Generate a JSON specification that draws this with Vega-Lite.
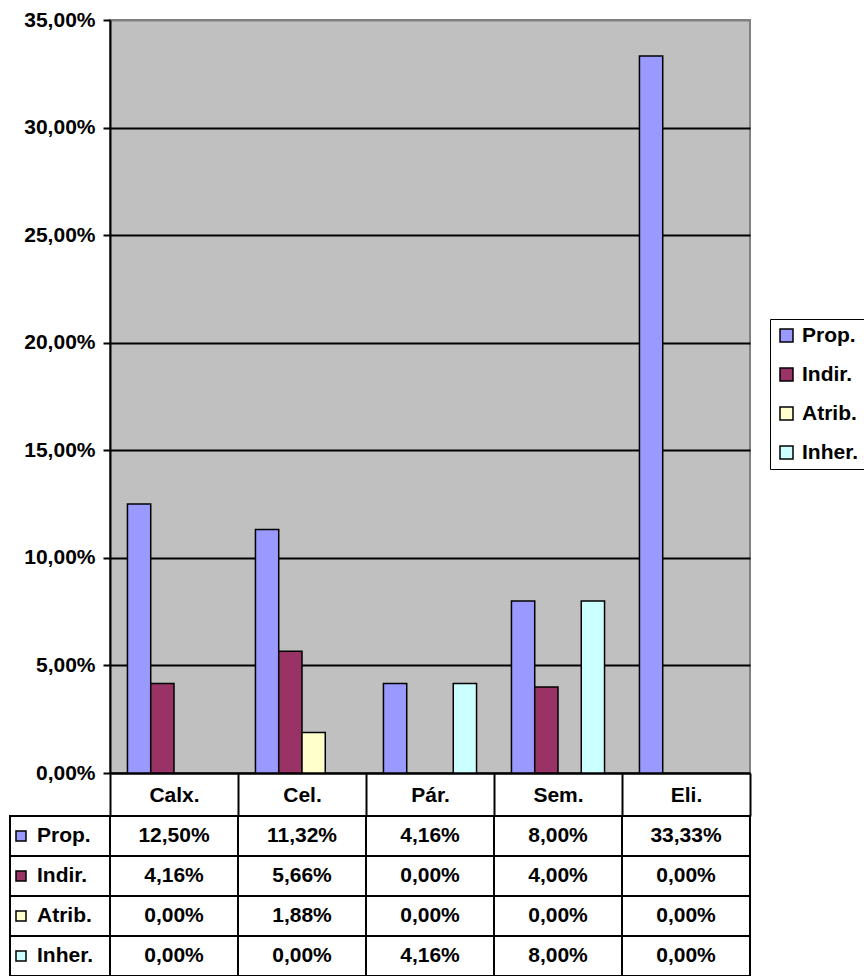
{
  "$schema": "https://vega.github.io/schema/vega-lite/v6.json",
  "padding": {"left": 9, "top": 8, "right": 0, "bottom": 0},
  "bounds": "flush",
  "columns": 2,
  "spacing": {"row": 43, "column": 0},
  "config": {
    "locale": {"number": {"decimal": ",", "thousands": ".", "grouping": [3], "currency": ["", " €"]}},
    "font": "Liberation Sans",
    "text": {"font": "Liberation Sans", "fontWeight": "bold", "fontSize": 21, "color": "black"},
    "axis": {"labelFont": "Liberation Sans", "labelFontWeight": "bold", "labelFontSize": 21, "labelColor": "black", "domainColor": "black", "domainWidth": 2, "tickColor": "black", "tickWidth": 2, "gridColor": "black", "gridWidth": 2, "title": null},
    "view": {"stroke": null}
  },
  "datasets": {
    "table": [
      {"category": "Calx.", "series": "Prop.", "value": 0.125},
      {"category": "Calx.", "series": "Indir.", "value": 0.0416},
      {"category": "Calx.", "series": "Atrib.", "value": 0},
      {"category": "Calx.", "series": "Inher.", "value": 0},
      {"category": "Cel.", "series": "Prop.", "value": 0.1132},
      {"category": "Cel.", "series": "Indir.", "value": 0.0566},
      {"category": "Cel.", "series": "Atrib.", "value": 0.0188},
      {"category": "Cel.", "series": "Inher.", "value": 0},
      {"category": "Pár.", "series": "Prop.", "value": 0.0416},
      {"category": "Pár.", "series": "Indir.", "value": 0},
      {"category": "Pár.", "series": "Atrib.", "value": 0},
      {"category": "Pár.", "series": "Inher.", "value": 0.0416},
      {"category": "Sem.", "series": "Prop.", "value": 0.08},
      {"category": "Sem.", "series": "Indir.", "value": 0.04},
      {"category": "Sem.", "series": "Atrib.", "value": 0},
      {"category": "Sem.", "series": "Inher.", "value": 0.08},
      {"category": "Eli.", "series": "Prop.", "value": 0.3333},
      {"category": "Eli.", "series": "Indir.", "value": 0},
      {"category": "Eli.", "series": "Atrib.", "value": 0},
      {"category": "Eli.", "series": "Inher.", "value": 0}
    ],
    "series": [
      {"series": "Prop."},
      {"series": "Indir."},
      {"series": "Atrib."},
      {"series": "Inher."}
    ]
  },
  "concat": [
    {
      "width": 100,
      "height": 753,
      "data": {"values": []},
      "mark": "point",
      "encoding": {}
    },
    {
      "width": 640,
      "height": 753,
      "data": {"name": "table"},
      "transform": [{"filter": "datum.value > 0"}],
      "view": {"fill": "#C0C0C0", "stroke": "#808080", "strokeWidth": 2},
      "mark": {"type": "bar", "stroke": "black", "strokeWidth": 1.5},
      "encoding": {
        "x": {
          "field": "category", "type": "nominal",
          "scale": {"domain": ["Calx.", "Cel.", "Pár.", "Sem.", "Eli."], "paddingInner": 0, "paddingOuter": 0},
          "axis": {"tickBand": "extent", "tickSize": 43, "labelAngle": 0, "labelPadding": -21, "labelBaseline": "middle", "title": null}
        },
        "xOffset": {
          "field": "series", "type": "nominal",
          "scale": {"domain": ["Prop.", "Indir.", "Atrib.", "Inher."], "paddingInner": 0, "paddingOuter": 0.75}
        },
        "y": {
          "field": "value", "type": "quantitative",
          "scale": {"domain": [0, 0.35], "nice": false},
          "axis": {
            "values": [0, 0.05, 0.1, 0.15, 0.2, 0.25, 0.3, 0.35],
            "format": ".2%", "tickSize": 7, "labelPadding": 8, "title": null,
            "gridColor": {"condition": {"test": "datum.value > 0.349", "value": "#808080"}, "value": "black"}
          }
        },
        "fill": {
          "field": "series", "type": "nominal",
          "scale": {"domain": ["Prop.", "Indir.", "Atrib.", "Inher."], "range": ["#9999FF", "#993366", "#FFFFCC", "#CCFFFF"]},
          "legend": {
            "orient": "none", "legendX": 760, "legendY": 299, "title": null,
            "symbolType": "square", "symbolSize": 169, "symbolStrokeColor": "black", "symbolStrokeWidth": 1.5,
            "labelFont": "Liberation Sans", "labelFontWeight": "bold", "labelFontSize": 21, "labelColor": "black",
            "rowPadding": 17, "padding": 6, "strokeColor": "black", "fillColor": "white", "labelOffset": 5
          }
        }
      }
    },
    {
      "width": 100,
      "height": 160,
      "data": {"name": "series"},
      "encoding": {
        "y": {"field": "series", "type": "nominal", "scale": {"domain": ["Prop.", "Indir.", "Atrib.", "Inher."], "paddingInner": 0, "paddingOuter": 0}, "axis": null}
      },
      "layer": [
        {"mark": {"type": "rect", "fill": "white", "stroke": "black", "strokeWidth": 2}},
        {
          "mark": {"type": "point", "shape": "square", "filled": true, "stroke": "black", "strokeWidth": 1.5, "size": 100, "opacity": 1},
          "encoding": {
            "x": {"datum": "sym", "type": "nominal", "scale": {"type": "point", "domain": ["sym", "txt"], "range": [11, 27], "padding": 0}, "axis": null},
            "fill": {"field": "series", "type": "nominal", "scale": {"domain": ["Prop.", "Indir.", "Atrib.", "Inher."], "range": ["#9999FF", "#993366", "#FFFFCC", "#CCFFFF"]}, "legend": null}
          }
        },
        {
          "mark": {"type": "text", "align": "left", "baseline": "middle"},
          "encoding": {
            "x": {"datum": "txt", "type": "nominal"},
            "text": {"field": "series"}
          }
        }
      ]
    },
    {
      "width": 640,
      "height": 160,
      "data": {"name": "table"},
      "encoding": {
        "x": {"field": "category", "type": "nominal", "scale": {"domain": ["Calx.", "Cel.", "Pár.", "Sem.", "Eli."], "paddingInner": 0, "paddingOuter": 0}, "axis": null},
        "y": {"field": "series", "type": "nominal", "scale": {"domain": ["Prop.", "Indir.", "Atrib.", "Inher."], "paddingInner": 0, "paddingOuter": 0}, "axis": null}
      },
      "layer": [
        {"mark": {"type": "rect", "fill": "white", "stroke": "black", "strokeWidth": 2}},
        {
          "mark": {"type": "text", "baseline": "middle"},
          "encoding": {"text": {"field": "value", "type": "quantitative", "format": ".2%"}}
        }
      ]
    }
  ]
}
